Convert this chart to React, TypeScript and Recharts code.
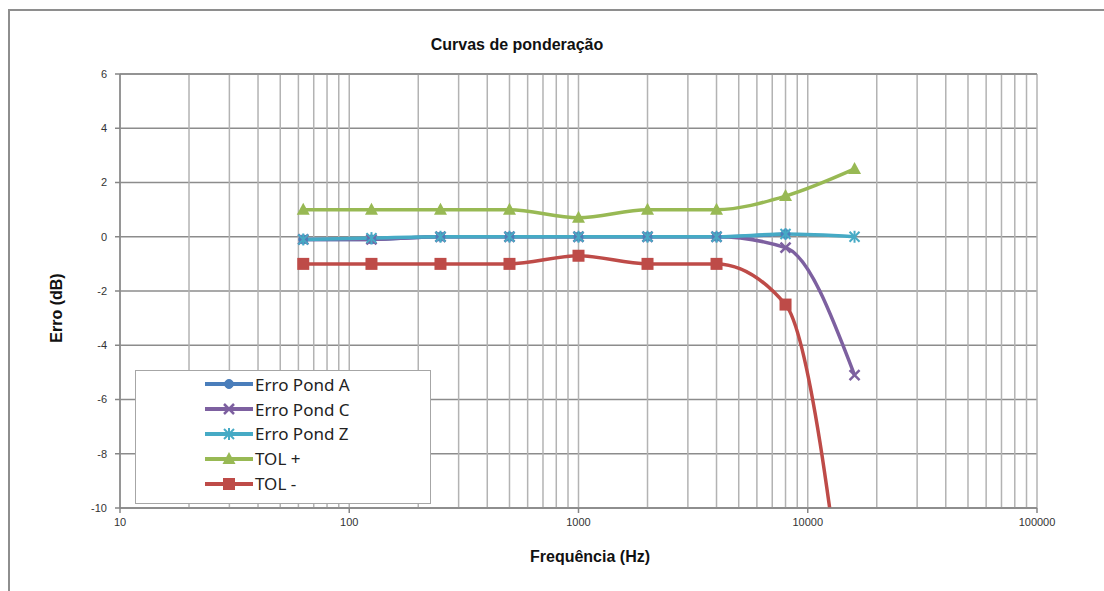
import {
  LineChart,
  Line,
  XAxis,
  YAxis,
  CartesianGrid,
  ReferenceLine,
  Legend,
} from "recharts";

const FREQS = [63, 125, 250, 500, 1000, 2000, 4000, 8000, 16000];
const ERRO_A = [-0.1, -0.1, 0, 0, 0, 0, 0, 0.1, null];
const ERRO_C = [-0.1, -0.1, 0, 0, 0, 0, 0, -0.4, -5.1];
const ERRO_Z = [-0.1, -0.05, 0, 0, 0, 0, 0, 0.1, 0];
const TOL_PLUS = [1, 1, 1, 1, 0.7, 1, 1, 1.5, 2.5];
const TOL_MINUS = [-1, -1, -1, -1, -0.7, -1, -1, -2.5, -17];

const X_TICKS = [10, 100, 1000, 10000, 100000];
const Y_TICKS = [-10, -8, -6, -4, -2, 0, 2, 4, 6];
// minor decade lines 20..90, 200..900, ...
const MINOR_X = [10, 100, 1000, 10000].flatMap((d) =>
  [2, 3, 4, 5, 6, 7, 8, 9].map((m) => d * m)
);

const data = FREQS.map((f, i) => ({
  f,
  a: ERRO_A[i],
  c: ERRO_C[i],
  z: ERRO_Z[i],
  tp: TOL_PLUS[i],
  tm: TOL_MINUS[i],
}));

const SERIES = [
  { key: "a", name: "Erro Pond A", color: "#4a7ebb", marker: "circle" },
  { key: "c", name: "Erro Pond C", color: "#7d60a0", marker: "x" },
  { key: "z", name: "Erro Pond Z", color: "#46aac5", marker: "star" },
  { key: "tp", name: "TOL +", color: "#98b954", marker: "triangle" },
  { key: "tm", name: "TOL -", color: "#be4b48", marker: "square" },
];

function Marker({ type, cx, cy, color }: any) {
  if (cx == null || cy == null || isNaN(cx) || isNaN(cy)) return <g />;
  switch (type) {
    case "circle":
      return <circle cx={cx} cy={cy} r={4.5} fill={color} stroke={color} />;
    case "x":
      return (
        <g stroke={color} strokeWidth={2.5}>
          <line x1={cx - 5} y1={cy - 5} x2={cx + 5} y2={cy + 5} />
          <line x1={cx - 5} y1={cy + 5} x2={cx + 5} y2={cy - 5} />
        </g>
      );
    case "star":
      return (
        <g stroke={color} strokeWidth={2}>
          <line x1={cx - 5} y1={cy - 5} x2={cx + 5} y2={cy + 5} />
          <line x1={cx - 5} y1={cy + 5} x2={cx + 5} y2={cy - 5} />
          <line x1={cx} y1={cy - 6} x2={cx} y2={cy + 6} />
        </g>
      );
    case "triangle":
      return (
        <path
          d={`M${cx},${cy - 7} L${cx + 6.5},${cy + 5} L${cx - 6.5},${cy + 5} Z`}
          fill={color}
        />
      );
    default:
      return <rect x={cx - 6} y={cy - 6} width={12} height={12} fill={color} />;
  }
}

function renderLegend(props: any) {
  const { payload = [] } = props;
  return (
    <div
      style={{
        width: "100%",
        height: "100%",
        boxSizing: "border-box",
        border: "1px solid #a6a6a6",
        background: "#fff",
        paddingTop: 1,
        paddingLeft: 68,
        fontFamily: "'Noto Sans', sans-serif",
        fontSize: 17,
        color: "#222",
      }}
    >
      {payload.map((p: any) => {
        const s = SERIES.find((x) => x.key === p.dataKey) || SERIES[0];
        return (
          <div
            key={s.key}
            style={{ display: "flex", alignItems: "center", height: 24.8 }}
          >
            <svg width={50} height={20} style={{ marginRight: 1 }}>
              <line x1={1} y1={10} x2={49} y2={10} stroke={s.color} strokeWidth={4} />
              <Marker type={s.marker} cx={25} cy={10} color={s.color} />
            </svg>
            <span>{s.name}</span>
          </div>
        );
      })}
    </div>
  );
}

export default function App() {
  return (
    <div
      style={{
        position: "absolute",
        left: 0,
        top: 0,
        width: 1104,
        height: 591,
        overflow: "hidden",
        background: "#fff",
      }}
    >
      <div
        style={{
          position: "absolute",
          left: 8,
          top: 9,
          width: 1200,
          height: 700,
          border: "2px solid #8e8e8e",
        }}
      />
      <div
        style={{
          position: "absolute",
          left: 517,
          top: 36,
          transform: "translateX(-50%)",
          fontFamily: "'Liberation Sans', Arial, sans-serif",
          fontWeight: "bold",
          fontSize: 16,
          color: "#111",
          whiteSpace: "nowrap",
        }}
      >
        Curvas de ponderação
      </div>
      <div
        style={{
          position: "absolute",
          left: 590,
          top: 548,
          transform: "translateX(-50%)",
          fontFamily: "'Liberation Sans', Arial, sans-serif",
          fontWeight: "bold",
          fontSize: 16,
          color: "#111",
          whiteSpace: "nowrap",
        }}
      >
        Frequência (Hz)
      </div>
      <div
        style={{
          position: "absolute",
          left: 57,
          top: 308,
          transform: "translate(-50%, -50%) rotate(-90deg)",
          fontFamily: "'Liberation Sans', Arial, sans-serif",
          fontWeight: "bold",
          fontSize: 16,
          color: "#111",
          whiteSpace: "nowrap",
        }}
      >
        Erro (dB)
      </div>
      <div style={{ position: "absolute", left: 0, top: 0 }}>
        <LineChart
          width={1104}
          height={591}
          data={data}
          margin={{ top: 74, right: 67, left: 80, bottom: 53 }}
        >
          <CartesianGrid
            stroke="#8c8c8c"
            strokeWidth={1.5}
            vertical={false}
          />
          {MINOR_X.concat(X_TICKS).map((v) => (
            <ReferenceLine
              key={v}
              x={v}
              stroke="#b3b3b3"
              strokeWidth={1.5}
              ifOverflow="extendDomain"
            />
          ))}
          <ReferenceLine y={6} stroke="#8c8c8c" strokeWidth={1.5} />
          <XAxis
            dataKey="f"
            type="number"
            scale="log"
            domain={[10, 100000]}
            ticks={X_TICKS}
            allowDataOverflow
            height={30}
            tickSize={5}
            tickMargin={5}
            stroke="#868686"
            strokeWidth={1.5}
            tick={{
              fontSize: 11,
              fill: "#333",
              fontFamily: "'Liberation Sans', Arial, sans-serif",
            }}
          />
          <YAxis
            type="number"
            domain={[-10, 6]}
            ticks={Y_TICKS}
            allowDataOverflow
            width={40}
            tickSize={5}
            tickMargin={8}
            stroke="#868686"
            strokeWidth={1.5}
            tick={{
              fontSize: 11,
              fill: "#333",
              fontFamily: "'Liberation Sans', Arial, sans-serif",
            }}
          />
          <Legend
            layout="horizontal"
            verticalAlign="middle"
            align="center"
            content={renderLegend}
            wrapperStyle={{ left: 135, top: 370, width: 296, height: 134 }}
          />
          {SERIES.map((s) => (
            <Line
              key={s.key}
              dataKey={s.key}
              name={s.name}
              type="monotone"
              stroke={s.color}
              strokeWidth={3.5}
              connectNulls={false}
              isAnimationActive={false}
              dot={(p: any) => (
                <Marker
                  key={`${s.key}-${p.index}`}
                  type={s.marker}
                  cx={p.cx}
                  cy={p.cy}
                  color={s.color}
                />
              )}
              activeDot={false}
            />
          ))}
        </LineChart>
      </div>
    </div>
  );
}
